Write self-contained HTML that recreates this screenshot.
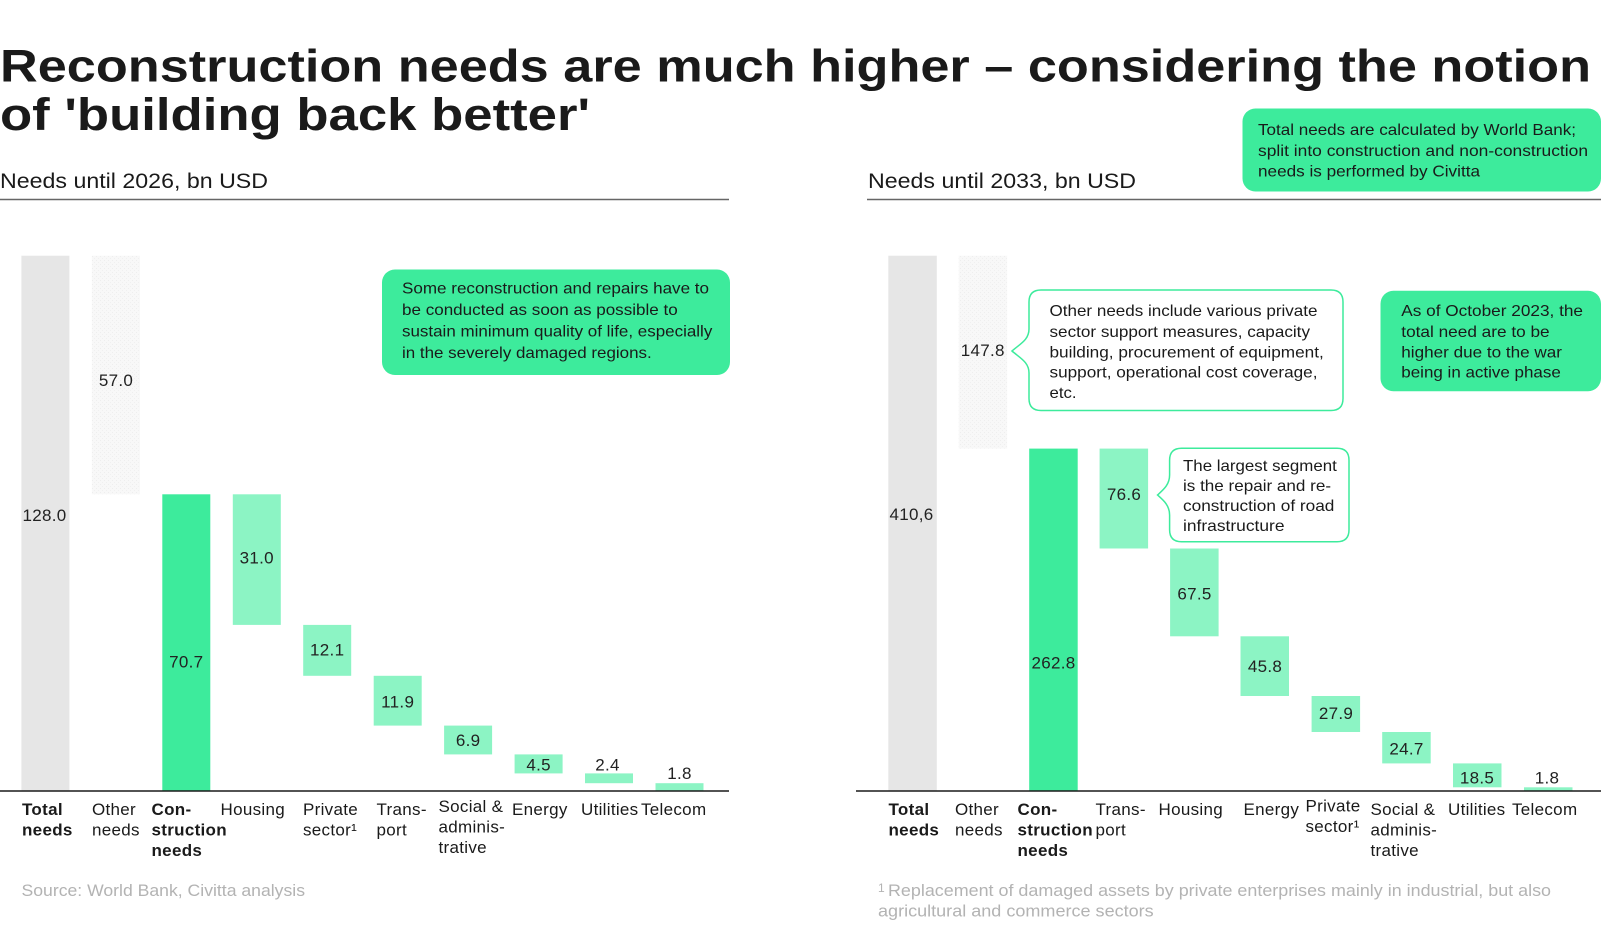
<!DOCTYPE html>
<html>
<head>
<meta charset="utf-8">
<style>
  html,body{margin:0;padding:0;background:#fff;}
  svg{display:block;}
  text{font-family:"Liberation Sans", Arial, sans-serif;fill:#1a1a1a;}
  .v{font-size:17px;letter-spacing:0.3px;text-anchor:middle;fill:#222;}
  .c{font-size:17px;letter-spacing:0.3px;}
  .b{font-weight:bold;}
  .n{font-size:16px;}
  .f{font-size:16.5px;fill:#b3b3b3;}
</style>
</head>
<body>
<svg width="1601" height="928" viewBox="0 0 1601 928" xmlns="http://www.w3.org/2000/svg">
  <defs>
    <pattern id="dots" width="4" height="4" patternUnits="userSpaceOnUse">
      <rect width="4" height="4" fill="#f8f8f8"/>
      <rect x="0" y="0" width="1" height="1" fill="#eeeeee"/>
      <rect x="2" y="2" width="1" height="1" fill="#f0f0f0"/>
    </pattern>
  </defs>

  <!-- Title -->
  <text x="0" y="81.7" font-size="45" font-weight="bold" fill="#1e1e1e" textLength="1591" lengthAdjust="spacingAndGlyphs">Reconstruction needs are much higher – considering the notion</text>
  <text x="0" y="130" font-size="45" font-weight="bold" fill="#1e1e1e" textLength="590" lengthAdjust="spacingAndGlyphs">of 'building back better'</text>

  <!-- Subtitles -->
  <text x="0" y="188" font-size="21" textLength="268" lengthAdjust="spacingAndGlyphs">Needs until 2026, bn USD</text>
  <text x="868" y="188" font-size="21" textLength="268" lengthAdjust="spacingAndGlyphs">Needs until 2033, bn USD</text>
  <line x1="0" y1="199.5" x2="729" y2="199.5" stroke="#666" stroke-width="1.5"/>
  <line x1="867" y1="199.5" x2="1601" y2="199.5" stroke="#666" stroke-width="1.5"/>

  <!-- Top right callout -->
  <rect x="1242.5" y="108.5" width="358.5" height="83" rx="13" fill="#3DEB9C"/>
  <text class="n" x="1258" y="135" textLength="318" lengthAdjust="spacingAndGlyphs">Total needs are calculated by World Bank;</text>
  <text class="n" x="1258" y="156" textLength="330" lengthAdjust="spacingAndGlyphs">split into construction and non-construction</text>
  <text class="n" x="1258" y="176.7" textLength="222" lengthAdjust="spacingAndGlyphs">needs is performed by Civitta</text>

  <!-- ===== LEFT CHART ===== -->
  <rect x="21.4" y="255.7" width="48" height="535.3" fill="#E6E6E6"/>
  <rect x="91.9" y="255.7" width="48" height="238.6" fill="url(#dots)"/>
  <rect x="162.3" y="494.3" width="48" height="296.7" fill="#3DEB9C"/>
  <rect x="232.8" y="494.3" width="48" height="130.6" fill="#8CF4C4"/>
  <rect x="303.2" y="624.9" width="48" height="50.9" fill="#8CF4C4"/>
  <rect x="373.7" y="675.8" width="48" height="49.8" fill="#8CF4C4"/>
  <rect x="444.1" y="725.6" width="48" height="28.8" fill="#8CF4C4"/>
  <rect x="514.6" y="754.4" width="48" height="19" fill="#8CF4C4"/>
  <rect x="585" y="773.4" width="48" height="9.8" fill="#8CF4C4"/>
  <rect x="655.5" y="783.2" width="48" height="7.8" fill="#8CF4C4"/>
  <line x1="0" y1="791" x2="729" y2="791" stroke="#1a1a1a" stroke-width="1.5"/>

  <text class="v" x="44.5" y="521">128.0</text>
  <text class="v" x="116" y="386">57.0</text>
  <text class="v" x="186.3" y="667.6">70.7</text>
  <text class="v" x="256.8" y="563.5">31.0</text>
  <text class="v" x="327.2" y="655.4">12.1</text>
  <text class="v" x="397.7" y="707.4">11.9</text>
  <text class="v" x="468.1" y="746.2">6.9</text>
  <text class="v" x="538.6" y="770.7">4.5</text>
  <text class="v" x="607.5" y="770.7">2.4</text>
  <text class="v" x="679.5" y="779">1.8</text>

  <!-- left category labels -->
  <text class="c b" x="22" y="815">Total</text>
  <text class="c b" x="22" y="835.5">needs</text>
  <text class="c" x="92" y="815">Other</text>
  <text class="c" x="92" y="835.5">needs</text>
  <text class="c b" x="151.5" y="815">Con-</text>
  <text class="c b" x="151.5" y="835.5">struction</text>
  <text class="c b" x="151.5" y="856">needs</text>
  <text class="c" x="220.5" y="815">Housing</text>
  <text class="c" x="303" y="815">Private</text>
  <text class="c" x="303" y="835.5">sector¹</text>
  <text class="c" x="376.5" y="815">Trans-</text>
  <text class="c" x="376.5" y="835.5">port</text>
  <text class="c" x="438.5" y="812">Social &amp;</text>
  <text class="c" x="438.5" y="832.5">adminis-</text>
  <text class="c" x="438.5" y="853">trative</text>
  <text class="c" x="512" y="815">Energy</text>
  <text class="c" x="581" y="815">Utilities</text>
  <text class="c" x="641" y="815">Telecom</text>

  <!-- left callout -->
  <rect x="382" y="269.5" width="348" height="105.5" rx="13" fill="#3DEB9C"/>
  <text class="n" x="402" y="293.5" textLength="307" lengthAdjust="spacingAndGlyphs">Some reconstruction and repairs have to</text>
  <text class="n" x="402" y="315" textLength="275.7" lengthAdjust="spacingAndGlyphs">be conducted as soon as possible to</text>
  <text class="n" x="402" y="336.5" textLength="310.3" lengthAdjust="spacingAndGlyphs">sustain minimum quality of life, especially</text>
  <text class="n" x="402" y="358" textLength="249.7" lengthAdjust="spacingAndGlyphs">in the severely damaged regions.</text>

  <text class="f" x="21.5" y="896" textLength="283.5" lengthAdjust="spacingAndGlyphs">Source: World Bank, Civitta analysis</text>

  <!-- ===== RIGHT CHART ===== -->
  <rect x="888.3" y="255.7" width="48.5" height="535.3" fill="#E6E6E6"/>
  <rect x="958.7" y="255.7" width="48.5" height="192.9" fill="url(#dots)"/>
  <rect x="1029.2" y="448.6" width="48.5" height="342.4" fill="#3DEB9C"/>
  <rect x="1099.6" y="448.6" width="48.5" height="99.9" fill="#8CF4C4"/>
  <rect x="1170.1" y="548.5" width="48.5" height="87.8" fill="#8CF4C4"/>
  <rect x="1240.5" y="636.3" width="48.5" height="59.7" fill="#8CF4C4"/>
  <rect x="1311.6" y="696" width="48.5" height="36" fill="#8CF4C4"/>
  <rect x="1382.2" y="732" width="48.5" height="31.4" fill="#8CF4C4"/>
  <rect x="1453" y="763.4" width="48.5" height="23.9" fill="#8CF4C4"/>
  <rect x="1524" y="787.3" width="48.5" height="3.7" fill="#8CF4C4"/>
  <line x1="856" y1="791" x2="1601" y2="791" stroke="#1a1a1a" stroke-width="1.5"/>

  <text class="v" x="911.5" y="519.8">410,6</text>
  <text class="v" x="982.8" y="356">147.8</text>
  <text class="v" x="1053.5" y="668.3">262.8</text>
  <text class="v" x="1124" y="500">76.6</text>
  <text class="v" x="1194.5" y="599.3">67.5</text>
  <text class="v" x="1265" y="672">45.8</text>
  <text class="v" x="1336" y="719">27.9</text>
  <text class="v" x="1406.5" y="754.7">24.7</text>
  <text class="v" x="1477" y="783.3">18.5</text>
  <text class="v" x="1547" y="783.3">1.8</text>

  <!-- right category labels -->
  <text class="c b" x="888.5" y="815">Total</text>
  <text class="c b" x="888.5" y="835.5">needs</text>
  <text class="c" x="955" y="815">Other</text>
  <text class="c" x="955" y="835.5">needs</text>
  <text class="c b" x="1017.5" y="815">Con-</text>
  <text class="c b" x="1017.5" y="835.5">struction</text>
  <text class="c b" x="1017.5" y="856">needs</text>
  <text class="c" x="1095.5" y="815">Trans-</text>
  <text class="c" x="1095.5" y="835.5">port</text>
  <text class="c" x="1158.5" y="815">Housing</text>
  <text class="c" x="1243.5" y="815">Energy</text>
  <text class="c" x="1305.5" y="811.7">Private</text>
  <text class="c" x="1305.5" y="832.2">sector¹</text>
  <text class="c" x="1370.5" y="815">Social &amp;</text>
  <text class="c" x="1370.5" y="835.5">adminis-</text>
  <text class="c" x="1370.5" y="856">trative</text>
  <text class="c" x="1448" y="815">Utilities</text>
  <text class="c" x="1512" y="815">Telecom</text>

  <!-- Other needs callout (white with notch) -->
  <path d="M1041,290 L1331,290 Q1343,290 1343,302 L1343,398.5 Q1343,410.5 1331,410.5 L1041,410.5 Q1029,410.5 1029,398.5 L1029,373 C1029,362 1020,358 1012,351 C1020,344 1029,340 1029,329 L1029,302 Q1029,290 1041,290 Z" fill="#fff" stroke="#3DEB9C" stroke-width="1.5"/>
  <text class="n" x="1049.5" y="316" textLength="268" lengthAdjust="spacingAndGlyphs">Other needs include various private</text>
  <text class="n" x="1049.5" y="337" textLength="260.5" lengthAdjust="spacingAndGlyphs">sector support measures, capacity</text>
  <text class="n" x="1049.5" y="357.3" textLength="274.3" lengthAdjust="spacingAndGlyphs">building, procurement of equipment,</text>
  <text class="n" x="1049.5" y="377.7" textLength="268" lengthAdjust="spacingAndGlyphs">support, operational cost coverage,</text>
  <text class="n" x="1049.5" y="398" textLength="27" lengthAdjust="spacingAndGlyphs">etc.</text>

  <!-- As of October callout -->
  <rect x="1380.5" y="290.7" width="220.5" height="100.6" rx="13" fill="#3DEB9C"/>
  <text class="n" x="1401.3" y="316" textLength="181.7" lengthAdjust="spacingAndGlyphs">As of October 2023, the</text>
  <text class="n" x="1401.3" y="337" textLength="148.3" lengthAdjust="spacingAndGlyphs">total need are to be</text>
  <text class="n" x="1401.3" y="357.3" textLength="160.7" lengthAdjust="spacingAndGlyphs">higher due to the war</text>
  <text class="n" x="1401.3" y="377.7" textLength="159.5" lengthAdjust="spacingAndGlyphs">being in active phase</text>

  <!-- Road callout -->
  <path d="M1181.6,448.3 L1337,448.3 Q1349,448.3 1349,460.3 L1349,529.7 Q1349,541.7 1337,541.7 L1181.6,541.7 Q1169.6,541.7 1169.6,529.7 L1169.6,515 C1169.6,505 1163,500 1157.5,495 C1163,490 1169.6,485 1169.6,475 L1169.6,460.3 Q1169.6,448.3 1181.6,448.3 Z" fill="#fff" stroke="#3DEB9C" stroke-width="1.5"/>
  <text class="n" x="1183" y="471" textLength="153.8" lengthAdjust="spacingAndGlyphs">The largest segment</text>
  <text class="n" x="1183" y="491" textLength="148" lengthAdjust="spacingAndGlyphs">is the repair and re-</text>
  <text class="n" x="1183" y="511" textLength="151.4" lengthAdjust="spacingAndGlyphs">construction of road</text>
  <text class="n" x="1183" y="531" textLength="101.5" lengthAdjust="spacingAndGlyphs">infrastructure</text>

  <!-- Right footnote -->
  <text class="f" x="878" y="896"><tspan font-size="12" dy="-4">1</tspan><tspan dy="4" x="888" textLength="663" lengthAdjust="spacingAndGlyphs">Replacement of damaged assets by private enterprises mainly in industrial, but also</tspan></text>
  <text class="f" x="878" y="916.5" textLength="275.7" lengthAdjust="spacingAndGlyphs">agricultural and commerce sectors</text>
</svg>
</body>
</html>
